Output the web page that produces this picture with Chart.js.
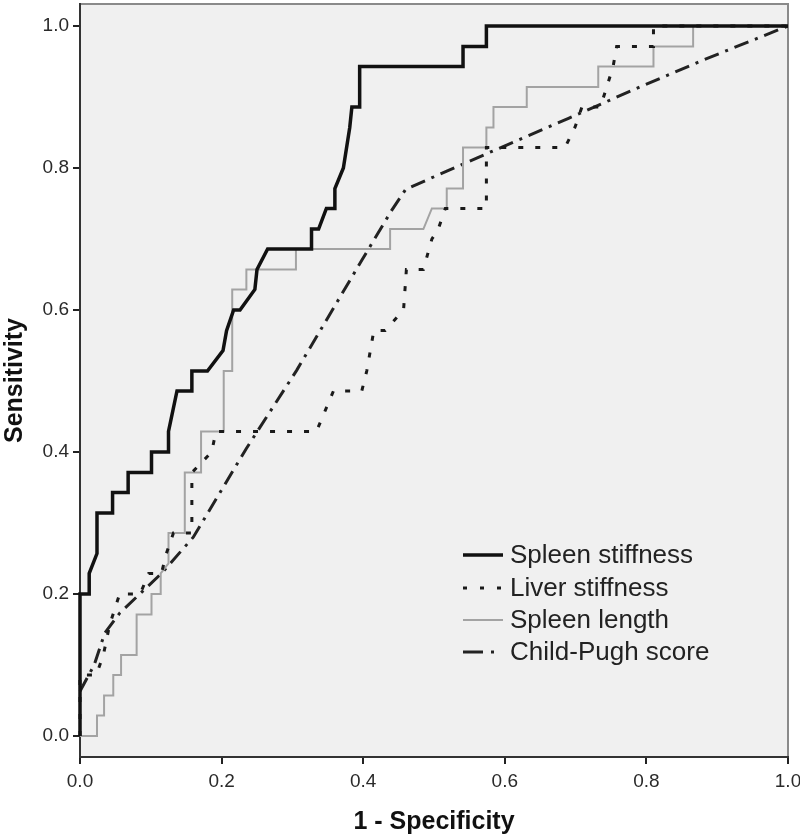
<!DOCTYPE html>
<html>
<head>
<meta charset="utf-8">
<script src="https://cdn.jsdelivr.net/npm/chart.js@4/dist/chart.umd.min.js"></script>
<style>
  body { margin: 0; background: #fff; }
  #wrap { width: 800px; height: 840px; }
</style>
</head>
<body>
<div id="wrap"><canvas id="roc" width="800" height="840"></canvas></div>
<script>
// ROC curves: [1 - specificity, sensitivity]
const spleenStiffness = [
  [0, 0], [0, 0.2], [0.013, 0.2], [0.013, 0.229], [0.024, 0.257], [0.024, 0.314],
  [0.046, 0.314], [0.046, 0.343], [0.068, 0.343], [0.068, 0.371], [0.101, 0.371],
  [0.101, 0.4], [0.125, 0.4], [0.125, 0.429], [0.137, 0.486], [0.158, 0.486],
  [0.158, 0.514], [0.18, 0.514], [0.202, 0.543], [0.207, 0.571], [0.217, 0.6],
  [0.226, 0.6], [0.247, 0.629], [0.25, 0.657], [0.265, 0.686], [0.327, 0.686],
  [0.327, 0.714], [0.337, 0.714], [0.348, 0.743], [0.36, 0.743], [0.36, 0.771],
  [0.372, 0.8], [0.381, 0.857], [0.384, 0.886], [0.395, 0.886], [0.395, 0.943],
  [0.541, 0.943], [0.541, 0.971], [0.574, 0.971], [0.574, 1], [1, 1]
];
const liverStiffness = [
  [0, 0], [0, 0.086], [0.023, 0.086], [0.033, 0.114], [0.042, 0.157], [0.056, 0.2],
  [0.085, 0.2], [0.097, 0.229], [0.115, 0.229], [0.122, 0.257], [0.132, 0.286],
  [0.158, 0.286], [0.158, 0.371], [0.186, 0.4], [0.192, 0.429], [0.334, 0.429],
  [0.358, 0.486], [0.398, 0.486], [0.405, 0.514], [0.415, 0.571], [0.431, 0.571],
  [0.457, 0.6], [0.461, 0.657], [0.485, 0.657], [0.497, 0.7], [0.506, 0.714],
  [0.516, 0.743], [0.574, 0.743], [0.574, 0.829], [0.685, 0.829], [0.699, 0.857],
  [0.709, 0.886], [0.735, 0.886], [0.744, 0.914], [0.753, 0.943], [0.758, 0.971],
  [0.81, 0.971], [0.81, 1], [1, 1]
];
const spleenLength = [
  [0, 0], [0.024, 0], [0.024, 0.029], [0.034, 0.029], [0.034, 0.057], [0.047, 0.057],
  [0.047, 0.086], [0.058, 0.086], [0.058, 0.114], [0.08, 0.114], [0.08, 0.171],
  [0.101, 0.171], [0.101, 0.2], [0.114, 0.2], [0.114, 0.229], [0.125, 0.243],
  [0.125, 0.286], [0.148, 0.286], [0.148, 0.371], [0.171, 0.371], [0.171, 0.429],
  [0.203, 0.429], [0.203, 0.514], [0.215, 0.514], [0.215, 0.629], [0.235, 0.629],
  [0.235, 0.657], [0.305, 0.657], [0.305, 0.686], [0.438, 0.686], [0.438, 0.714],
  [0.485, 0.714], [0.497, 0.743], [0.518, 0.743], [0.518, 0.771], [0.541, 0.771],
  [0.541, 0.829], [0.574, 0.829], [0.574, 0.857], [0.584, 0.857], [0.584, 0.886],
  [0.631, 0.886], [0.631, 0.914], [0.732, 0.914], [0.732, 0.943], [0.81, 0.943],
  [0.81, 0.971], [0.866, 0.971], [0.866, 1], [1, 1]
];
const childPugh = [
  [0, 0.063], [0.02, 0.1], [0.035, 0.145], [0.056, 0.173], [0.115, 0.229],
  [0.16, 0.28], [0.235, 0.405], [0.306, 0.515], [0.398, 0.67], [0.44, 0.74],
  [0.46, 0.77], [0.51, 0.792], [0.574, 0.82], [0.69, 0.87], [0.786, 0.912],
  [0.88, 0.952], [1, 1]
];
const seriesLabels = ["Spleen stiffness", "Liver stiffness", "Spleen length", "Child-Pugh score"];
const axisTicks = [0, 0.2, 0.4, 0.6, 0.8, 1.0];

const toXY = (arr) => arr.map(p => ({ x: p[0], y: p[1] }));
const FONT = "'Liberation Sans', Arial, sans-serif";

// grey plot panel behind the curves
const panelPlugin = {
  id: "panel",
  beforeDraw(chart) {
    const { ctx, chartArea: a } = chart;
    ctx.save();
    ctx.fillStyle = "#f0f0f0";
    ctx.fillRect(a.left, a.top, a.right - a.left, a.bottom - a.top);
    ctx.strokeStyle = "#8a8a8a";
    ctx.lineWidth = 2;
    ctx.beginPath();
    ctx.moveTo(a.left, a.top);
    ctx.lineTo(a.right, a.top);
    ctx.lineTo(a.right, a.bottom);
    ctx.stroke();
    ctx.restore();
  }
};

// legend drawn inside the panel, bottom right
const legendPlugin = {
  id: "innerLegend",
  afterDatasetsDraw(chart) {
    const { ctx } = chart;
    const x0 = 463, x1 = 503, tx = 510;
    const rows = [555, 588, 620, 652];
    ctx.save();
    ctx.font = "26px " + FONT;
    ctx.textBaseline = "middle";
    chart.data.datasets.forEach((ds, i) => {
      const y = rows[i];
      ctx.strokeStyle = ds.borderColor;
      ctx.lineWidth = ds.borderWidth;
      ctx.setLineDash(ds.legendDash || ds.borderDash || []);
      ctx.beginPath();
      ctx.moveTo(x0, y);
      ctx.lineTo(x1, y);
      ctx.stroke();
      ctx.setLineDash([]);
      ctx.fillStyle = "#222";
      ctx.fillText(ds.label, tx, y + 1);
    });
    ctx.restore();
  }
};

const noPad = (s) => { s.paddingLeft = 0; s.paddingRight = 0; s.paddingTop = 0; s.paddingBottom = 0; };

new Chart(document.getElementById("roc"), {
  type: "scatter",
  data: {
    datasets: [
      { label: seriesLabels[0], data: toXY(spleenStiffness), borderColor: "#111", borderWidth: 3.5 },
      { label: seriesLabels[1], data: toXY(liverStiffness), borderColor: "#1a1a1a", borderWidth: 3,
        borderDash: [5, 12], legendDash: [4, 13] },
      { label: seriesLabels[2], data: toXY(spleenLength), borderColor: "#a3a3a3", borderWidth: 2 },
      { label: seriesLabels[3], data: toXY(childPugh), borderColor: "#222", borderWidth: 3,
        borderDash: [15, 7, 3, 7], legendDash: [20, 8, 3, 20] }
    ].map(d => Object.assign(d, { showLine: true, pointRadius: 0, tension: 0, clip: false }))
  },
  options: {
    responsive: false,
    animation: false,
    layout: { autoPadding: false, padding: { top: 4, right: 12, left: 0, bottom: 0 } },
    plugins: { legend: { display: false }, tooltip: { enabled: false } },
    scales: {
      x: {
        type: "linear",
        min: 0,
        max: 1,
        afterBuildTicks: (s) => { s.ticks = axisTicks.map(v => ({ value: v })); },
        afterFit: (s) => { s.height = 83; noPad(s); },
        grid: { drawOnChartArea: false, drawTicks: true, tickLength: 7, color: "#222", lineWidth: 2 },
        border: { display: true, color: "#333", width: 2 },
        ticks: { padding: 6, color: "#2a2a2a", font: { family: FONT, size: 19 },
          callback: (v) => v.toFixed(1) },
        title: { display: true, text: "1 - Specificity", color: "#111",
          font: { family: FONT, size: 25, weight: "bold" }, padding: { top: 0, bottom: 3 } }
      },
      y: {
        type: "linear",
        min: -0.0296,
        max: 1.031,
        afterBuildTicks: (s) => { s.ticks = axisTicks.map(v => ({ value: v })); },
        afterFit: (s) => { s.width = 80; noPad(s); },
        grid: { drawOnChartArea: false, drawTicks: true, tickLength: 7, color: "#222", lineWidth: 2 },
        border: { display: true, color: "#333", width: 2 },
        ticks: { padding: 4, color: "#2a2a2a", font: { family: FONT, size: 19 },
          callback: (v) => v.toFixed(1) },
        title: { display: true, text: "Sensitivity", color: "#111",
          font: { family: FONT, size: 25, weight: "bold" }, padding: { top: 0, bottom: 0 } }
      }
    }
  },
  plugins: [panelPlugin, legendPlugin]
});
</script>
</body>
</html>
